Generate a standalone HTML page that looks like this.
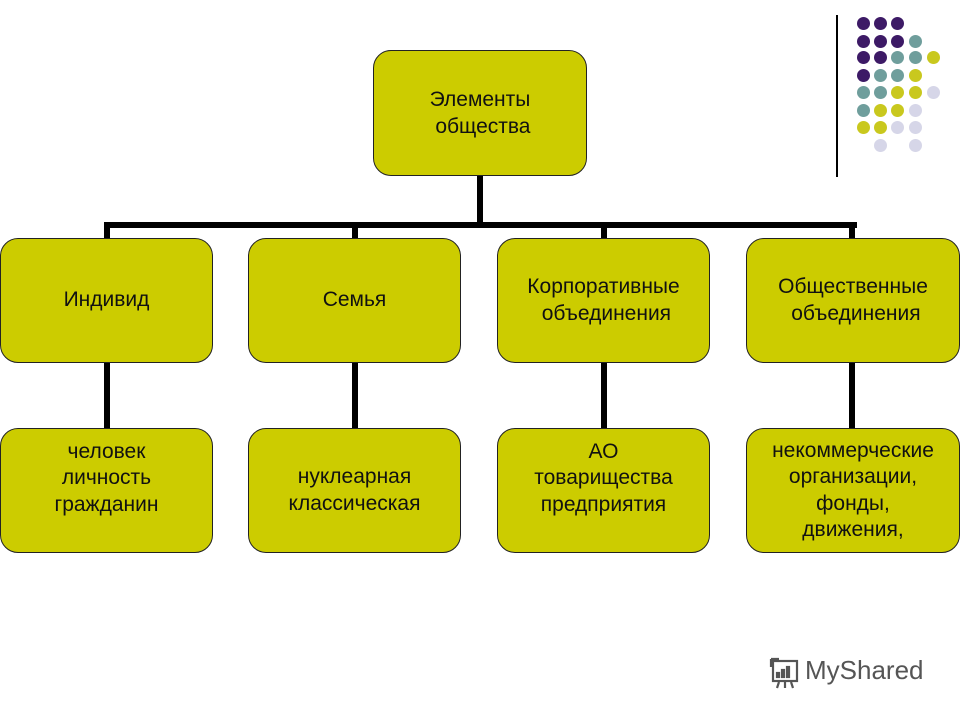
<!DOCTYPE html>
<html><head><meta charset="utf-8"><style>
body{margin:0;width:960px;height:720px;background:#fff;position:relative;overflow:hidden;font-family:"Liberation Sans","DejaVu Sans",sans-serif;}
.b{position:absolute;width:213px;height:125px;background:#cccc00;border:1px solid #222;border-radius:18px;box-sizing:border-box;display:flex;align-items:center;justify-content:center;text-align:center;font-size:21px;line-height:26.5px;color:#111;white-space:nowrap;}
.l{position:absolute;background:#000;}
.d{position:absolute;width:13px;height:13px;border-radius:50%;}
</style></head><body>
<div class="b" style="left:373px;top:50px;width:214px;height:126px;line-height:27px;">Элементы<br>&nbsp;общества</div>
<div class="l" style="left:477px;top:176px;width:6px;height:50px"></div>
<div class="l" style="left:104px;top:222px;width:753px;height:6px"></div>
<div class="l" style="left:104px;top:222px;width:6px;height:16px"></div>
<div class="l" style="left:352px;top:222px;width:6px;height:16px"></div>
<div class="l" style="left:601px;top:222px;width:6px;height:16px"></div>
<div class="l" style="left:849px;top:222px;width:6px;height:16px"></div>
<div class="b" style="left:0;top:238px;">Индивид</div>
<div class="b" style="left:248px;top:238px;">Семья</div>
<div class="b" style="left:497px;top:238px;">Корпоративные<br>&nbsp;объединения</div>
<div class="b" style="left:746px;top:238px;width:214px;">Общественные<br>&nbsp;объединения</div>
<div class="l" style="left:104px;top:363px;width:6px;height:66px"></div>
<div class="l" style="left:352px;top:363px;width:6px;height:66px"></div>
<div class="l" style="left:601px;top:363px;width:6px;height:66px"></div>
<div class="l" style="left:849px;top:363px;width:6px;height:66px"></div>
<div class="b" style="left:0;top:428px;padding-bottom:24px;">человек<br>личность<br>гражданин</div>
<div class="b" style="left:248px;top:428px;">нуклеарная<br>классическая</div>
<div class="b" style="left:497px;top:428px;padding-bottom:24px;">АО<br>товарищества<br>предприятия</div>
<div class="b" style="left:746px;top:428px;width:214px;">некоммерческие<br>организации,<br>фонды,<br>движения,</div>
<div class="l" style="left:836px;top:15px;width:2px;height:162px"></div>
<div id="dots"></div>
<div style="position:absolute;left:766px;top:655px;width:36px;height:36px;">
<svg width="36" height="36" viewBox="0 0 36 36" fill="none" stroke="#555" stroke-width="2.2"><rect x="7" y="6" width="24" height="20"/><path d="M5 4h8M5 4v8"/><rect x="11" y="18" width="2" height="4" fill="#555"/><rect x="16" y="15" width="2" height="7" fill="#555"/><rect x="21" y="12" width="2" height="10" fill="#555"/><path d="M13 27l-2 6M19 27v6M25 27l2 6"/></svg></div>
<div style="position:absolute;left:805px;top:655px;font-size:26px;color:#555;">MyShared</div>
<script>
var C={P:"#3d1a66",T:"#6f9e9c",Y:"#c9c81e",L:"#d6d6e8"};
var rows=["PPP","PPPT","PPTTY","PTTY","TTYYL","TYYL","YYLL"," L L"];
var xs=[863,880,897,915,933],ys=[23,41,57,75,92,110,127,145];
var h="";rows.forEach(function(r,i){for(var j=0;j<r.length;j++){if(r[j]!=" ")h+='<div class="d" style="left:'+(xs[j]-6.5)+'px;top:'+(ys[i]-6.5)+'px;background:'+C[r[j]]+'"></div>';}});
document.getElementById("dots").innerHTML=h;
</script>
</body></html>
